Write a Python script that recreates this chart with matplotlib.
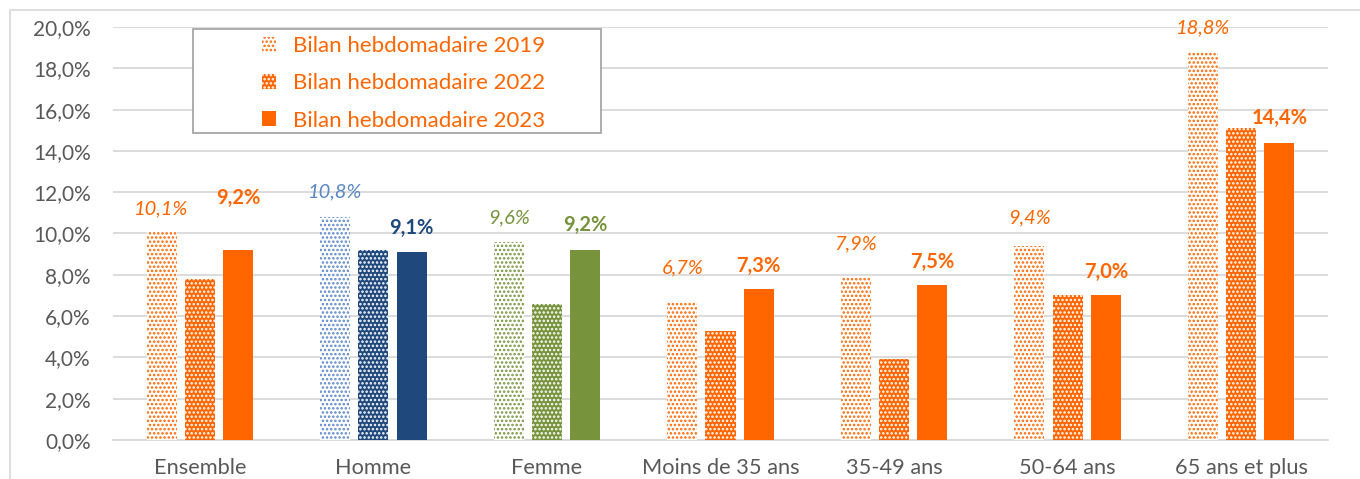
import matplotlib
matplotlib.use("Agg")
import matplotlib.pyplot as plt
from matplotlib.patches import Rectangle, Patch
import numpy as np

categories = ["Ensemble", "Homme", "Femme", "Moins de 35 ans", "35-49 ans", "50-64 ans", "65 ans et plus"]
series_names = ["Bilan hebdomadaire 2019", "Bilan hebdomadaire 2022", "Bilan hebdomadaire 2023"]
v2019 = [10.1, 10.8, 9.6, 6.7, 7.9, 9.4, 18.8]
v2022 = [7.8, 9.2, 6.6, 5.3, 3.9, 7.0, 15.1]
v2023 = [9.2, 9.1, 9.2, 7.3, 7.5, 7.0, 14.4]
yticks = [0, 2, 4, 6, 8, 10, 12, 14, 16, 18, 20]

# label positions (data units) as placed in the reference
lab2019_y = [11.2, 12.0, 10.75, 8.33, 9.5, 10.75, 19.95]
lab2023_y = [11.7, 10.27, 10.4, 8.43, 8.62, 8.14, 15.6]

ORANGE = "#FF6600"
light_cols = [ORANGE, "#5B87C6", "#77933C", ORANGE, ORANGE, ORANGE, ORANGE]
dark_cols = [ORANGE, "#1F497D", "#77933C", ORANGE, ORANGE, ORANGE, ORANGE]

plt.rcParams['font.family'] = ['Lato', 'DejaVu Sans']
plt.rcParams['hatch.linewidth'] = 1.2

W, H = 1360, 479
fig = plt.figure(figsize=(W/100, H/100), dpi=100)
ax = fig.add_axes([113/W, 39/H, 1215/W, 413/H])

# figure border
fig.patches.append(Rectangle((10/W, -0.05), 1.2, (H-10)/H + 0.05, transform=fig.transFigure,
                             fill=False, edgecolor="#D9D9D9", linewidth=1.2))

x = np.arange(len(categories))
w = 0.173
off = 0.22

for i in range(len(categories)):
    ax.bar(x[i] - off, v2019[i], w, facecolor="white", edgecolor=light_cols[i], hatch="....", linewidth=0, zorder=3)
    ax.bar(x[i], v2022[i], w, facecolor=dark_cols[i], edgecolor="white", hatch="....", linewidth=0, zorder=3)
    ax.bar(x[i] + off, v2023[i], w, facecolor=dark_cols[i], linewidth=0, zorder=3)
    ax.text(x[i] - off, lab2019_y[i], f"{v2019[i]:.1f}%".replace(".", ","), ha="center", va="center",
            color=light_cols[i], fontsize=14.5, style="italic", zorder=4)
    ax.text(x[i] + off, lab2023_y[i], f"{v2023[i]:.1f}%".replace(".", ","), ha="center", va="center",
            color=dark_cols[i], fontsize=14.5, fontweight="bold", zorder=4)

ax.set_xlim(-0.5, 6.5)
ax.set_ylim(0, 20)
ax.set_yticks(yticks)
ax.set_yticklabels([f"{t:.1f}%".replace(".", ",") for t in yticks])
ax.set_xticks(x)
ax.set_xticklabels(categories)
ax.tick_params(axis="both", length=0, labelsize=15, colors="#595959")
ax.tick_params(axis="x", labelsize=15.7, pad=13)
ax.tick_params(axis="y", pad=16)
ax.grid(axis="y", color="#D9D9D9", linewidth=1.3, zorder=0)
for s in ["top", "right", "left"]:
    ax.spines[s].set_visible(False)
ax.spines["bottom"].set_color("#D9D9D9")
ax.spines["bottom"].set_linewidth(1.3)

# legend frame
fig.patches.append(Rectangle((193/W, (H-133)/H), 408/W, 104/H, transform=fig.transFigure,
                             facecolor="white", edgecolor="#A6A6A6", linewidth=1.3, zorder=5))

handles = [
    Patch(facecolor="white", edgecolor=ORANGE, hatch="....", linewidth=0),
    Patch(facecolor=ORANGE, edgecolor="white", hatch="....", linewidth=0),
    Patch(facecolor=ORANGE, linewidth=0),
]
leg = fig.legend(handles, series_names, loc="upper left", bbox_to_anchor=(262/W, (H-36)/H),
                 frameon=False, fontsize=16,
                 handlelength=0.65, handleheight=0.65, handletextpad=0.75, labelspacing=0.78,
                 borderpad=0.0, borderaxespad=0)
leg.set_zorder(6)
for t in leg.get_texts():
    t.set_color(ORANGE)

fig.savefig("out.png", dpi=100)
